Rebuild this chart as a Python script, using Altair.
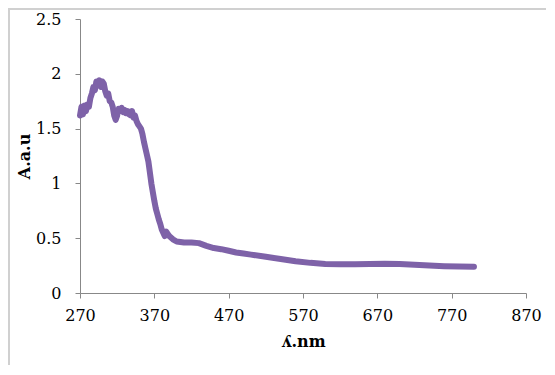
import altair as alt
import pandas as pd

wavelength = [270, 272, 274, 276, 278, 280, 282, 284, 286, 288, 290, 292, 294, 296, 298,
              300, 302, 304, 306, 308, 310, 312, 314, 316, 318, 320, 322, 324, 326, 328,
              330, 332, 334, 336, 338, 340, 342, 344, 346, 348, 350, 352, 354, 356, 358,
              360, 362, 364, 366, 368, 370, 372, 374, 376, 378, 380, 382, 384, 386, 388,
              390, 395, 400, 405, 410, 420, 430, 440, 450, 460, 470, 480, 490, 500, 520,
              540, 560, 580, 600, 620, 640, 660, 680, 700, 720, 740, 760, 780, 800]
absorbance = [1.62, 1.70, 1.63, 1.71, 1.66, 1.72, 1.70, 1.78, 1.82, 1.88, 1.85, 1.93, 1.90, 1.94, 1.88,
              1.93, 1.91, 1.84, 1.80, 1.82, 1.75, 1.74, 1.70, 1.62, 1.58, 1.62, 1.68, 1.66, 1.69, 1.65,
              1.67, 1.64, 1.66, 1.63, 1.62, 1.66, 1.60, 1.62, 1.57, 1.54, 1.52, 1.50, 1.45, 1.38, 1.32,
              1.26, 1.20, 1.10, 1.00, 0.92, 0.84, 0.77, 0.72, 0.67, 0.63, 0.58, 0.55, 0.52, 0.56, 0.54,
              0.52, 0.49, 0.47, 0.465, 0.46, 0.46, 0.455, 0.43, 0.41, 0.40, 0.385, 0.37, 0.36, 0.35, 0.33,
              0.31, 0.29, 0.275, 0.265, 0.262, 0.262, 0.265, 0.268, 0.265, 0.258, 0.25, 0.245, 0.242, 0.24]

x_ticks = [270, 370, 470, 570, 670, 770, 870]
y_ticks = [0, 0.5, 1, 1.5, 2, 2.5]

df = pd.DataFrame({"wl": wavelength, "a": absorbance})

FONT = "DejaVu Serif"

line = alt.Chart(df).mark_line(color="#7E62A8", strokeWidth=6, strokeJoin="round", strokeCap="round").encode(
    x=alt.X("wl:Q", scale=alt.Scale(domain=[270, 870], nice=False, zero=False),
            axis=alt.Axis(values=x_ticks, title="ʎ.nm", grid=False, format="d", labelFlush=False,
                          labelFont=FONT, labelFontSize=16, labelColor="#000",
                          titleFont=FONT, titleFontSize=16, titleFontWeight="bold", titleColor="#000",
                          titlePadding=10, domainColor="#888", tickColor="#888", tickSize=5,
                          labelPadding=9)),
    y=alt.Y("a:Q", scale=alt.Scale(domain=[0, 2.5], nice=False),
            axis=alt.Axis(values=y_ticks, title="A.a.u", grid=False, format="~g", labelFlush=False,
                          labelFont=FONT, labelFontSize=16, labelColor="#000",
                          titleFont=FONT, titleFontSize=16, titleFontWeight="bold", titleColor="#000",
                          titlePadding=3, domainColor="#888", tickColor="#888", tickSize=5,
                          labelPadding=14)),
)

border = alt.Chart(pd.DataFrame({"k": [0]})).mark_rect(
    fill=None, stroke="#d0d0d0", strokeWidth=2
).encode(x=alt.value(-71), x2=alt.value(480), y=alt.value(-10), y2=alt.value(360))

chart = alt.layer(border, line).properties(
    width=446, height=274,
    autosize=alt.AutoSizeParams(type="none"),
    padding={"left": 72, "top": 11, "right": 20, "bottom": 72},
).configure_view(stroke=None)

chart.save("out.html", embed_options={"renderer": "svg", "actions": False})
